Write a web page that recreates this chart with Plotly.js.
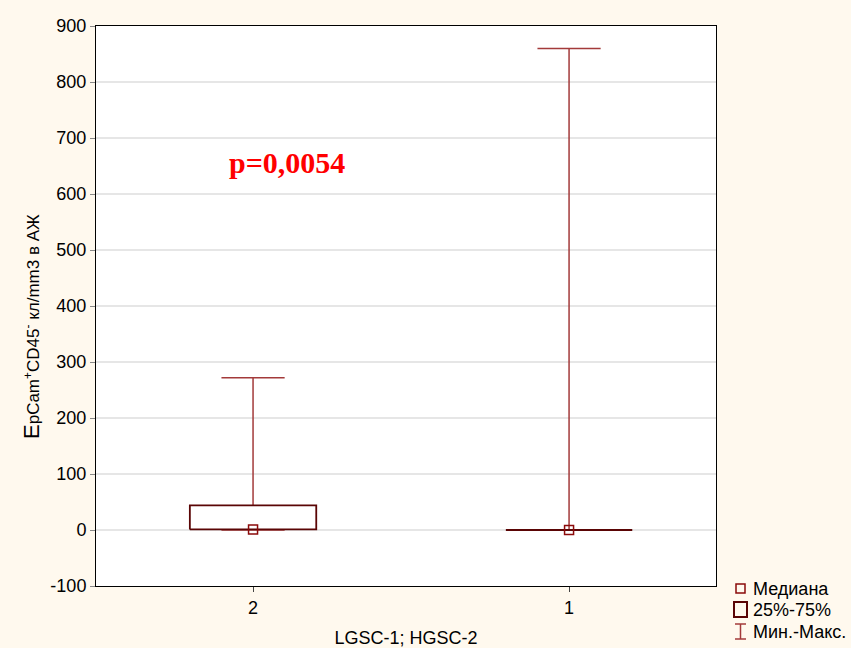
<!DOCTYPE html>
<html><head><meta charset="utf-8">
<script src="https://cdn.plot.ly/plotly-3.0.1.min.js"></script>
<style>body{margin:0;background:#FFF9EE}</style>
</head><body><div id="chart" style="width:851px;height:648px"></div>
<script>
const categories = ["2", "1"];
const mins = [0, 0];
const q1 = [1, 0];
const medians = [1, 0];
const q3 = [44, 1];
const maxs = [272, 860];
const yTicks = [-100, 0, 100, 200, 300, 400, 500, 600, 700, 800, 900];
const yTickLabels = ["-100", "0", "100", "200", "300", "400", "500", "600", "700", "800", "900"];
const pText = "p=0,0054";
const yTitle = "<span style='font-size:22px'>E</span>pCam<sup>+</sup>CD45<sup>-</sup> кл/mm3 в АЖ";
const xTitle = "LGSC-1; HGSC-2";

const boxHalf = 0.2, capHalf = 0.1;
const whiskerColor = "#A33A3A", boxColor = "#5A0505", medColor = "#8B0A0A";
const traces = [];
categories.forEach((c, i) => {
  traces.push({x:[i,i], y:[q3[i], maxs[i]], mode:"lines", line:{color:whiskerColor,width:1.5}, showlegend:false, hoverinfo:"skip"});
  traces.push({x:[i,i], y:[mins[i], q1[i]], mode:"lines", line:{color:whiskerColor,width:1.5}, showlegend:false, hoverinfo:"skip"});
  traces.push({x:[i-capHalf,i+capHalf], y:[maxs[i],maxs[i]], mode:"lines", line:{color:whiskerColor,width:1.5}, showlegend:false, hoverinfo:"skip"});
  traces.push({x:[i-capHalf,i+capHalf], y:[mins[i],mins[i]], mode:"lines", line:{color:whiskerColor,width:1.5}, showlegend:false, hoverinfo:"skip"});
  traces.push({x:[i-boxHalf,i+boxHalf,i+boxHalf,i-boxHalf,i-boxHalf], y:[q1[i],q1[i],q3[i],q3[i],q1[i]], mode:"lines", line:{color:boxColor,width:1.8}, showlegend:false, hoverinfo:"skip"});
});
traces.push({x:categories.map((c,i)=>i), y:medians, mode:"markers", marker:{symbol:"square-open", size:9, color:medColor, line:{width:1.5,color:medColor}}, showlegend:false});

const pw = 851-96-135, ph = 648-26-62;
const px = X => (X-96)/pw, py = Y => (648-62-Y)/ph;

const layout = {
  width:851, height:648,
  paper_bgcolor:"#FFF9EE", plot_bgcolor:"#FFFFFF",
  margin:{l:96, r:135, t:26, b:62},
  font:{family:"Arial, Liberation Sans, sans-serif", size:18, color:"#000"},
  xaxis:{range:[-0.497,1.465], tickvals:[0,1], ticktext:categories, showgrid:false, zeroline:false,
    showline:true, mirror:true, linecolor:"#000", linewidth:1, ticks:"outside", ticklen:5, tickcolor:"#444",
    tickfont:{size:18},
    title:{text:xTitle, font:{size:18}, standoff:14}},
  yaxis:{range:[-100,900], tickvals:yTicks, ticktext:yTickLabels, showgrid:true, gridcolor:"#E6E6E6", gridwidth:1.5, zeroline:false,
    showline:true, mirror:true, linecolor:"#000", linewidth:1, ticks:"outside", ticklen:5, tickcolor:"#888",
    tickfont:{size:18}},
  annotations:[
    {x:0.107, y:657, xref:"x", yref:"y", text:"<b>"+pText+"</b>", showarrow:false, font:{family:"Liberation Serif, Times New Roman, serif", size:30, color:"#FF0000"}},
    {xref:"paper", yref:"paper", x:px(31), y:py(327), text:yTitle, textangle:-90, showarrow:false, xanchor:"center", yanchor:"middle", font:{size:17}},
    {xref:"paper", yref:"paper", x:px(751), y:py(589), text:"Медиана", showarrow:false, xanchor:"left", yanchor:"middle", font:{size:18}},
    {xref:"paper", yref:"paper", x:px(751), y:py(610), text:"25%-75%", showarrow:false, xanchor:"left", yanchor:"middle", font:{size:18}},
    {xref:"paper", yref:"paper", x:px(751), y:py(632), text:"Мин.-Макс.", showarrow:false, xanchor:"left", yanchor:"middle", font:{size:18}}
  ],
  shapes:[
    {type:"rect", xref:"paper", yref:"paper", x0:px(736), x1:px(745), y0:py(593), y1:py(584), line:{color:medColor,width:1.5}},
    {type:"rect", xref:"paper", yref:"paper", x0:px(734), x1:px(747), y0:py(617), y1:py(602), line:{color:boxColor,width:2}},
    {type:"line", xref:"paper", yref:"paper", x0:px(740.5), x1:px(740.5), y0:py(639), y1:py(624), line:{color:whiskerColor,width:1.5}},
    {type:"line", xref:"paper", yref:"paper", x0:px(735), x1:px(746), y0:py(624), y1:py(624), line:{color:whiskerColor,width:1.5}},
    {type:"line", xref:"paper", yref:"paper", x0:px(735), x1:px(746), y0:py(639), y1:py(639), line:{color:whiskerColor,width:1.5}}
  ]
};
Plotly.newPlot("chart", traces, layout, {displayModeBar:false, staticPlot:true});
</script></body></html>
